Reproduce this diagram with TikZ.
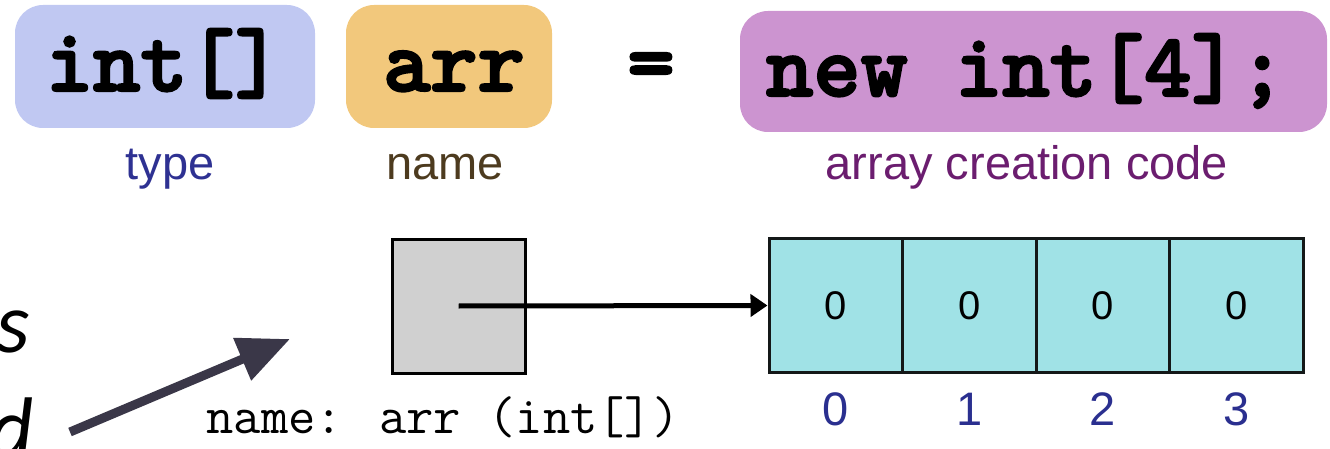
\documentclass[tikz,border=0pt]{standalone}
\usepackage{fontspec}
\usetikzlibrary{arrows.meta}
\setmainfont{Liberation Sans}
\newfontfamily\calit{Carlito}[ItalicFont=* Italic]
\definecolor{typebox}{RGB}{192,200,242}
\definecolor{namebox}{RGB}{242,200,124}
\definecolor{newbox}{RGB}{204,148,208}
\definecolor{typetxt}{RGB}{46,49,146}
\definecolor{nametxt}{RGB}{77,59,31}
\definecolor{newtxt}{RGB}{107,29,111}
\definecolor{idxtxt}{RGB}{42,47,143}
\definecolor{reffill}{RGB}{208,208,208}
\definecolor{cellfill}{RGB}{160,226,230}
\definecolor{cellline}{RGB}{20,24,24}
\definecolor{bigarrow}{RGB}{58,55,72}
\newcommand{\heavy}[1]{\special{pdf:literal direct 2 Tr 2.2 w}#1\special{pdf:literal direct 0 Tr 0.4 w}}
\begin{document}
\begin{tikzpicture}[x=1pt,y=-1pt,
  codebox/.style={rectangle, rounded corners=28pt, inner sep=0pt},
  codetxt/.style={inner sep=0pt, anchor=base, font=\fontsize{90}{90}\selectfont\ttfamily\bfseries},
  lbl/.style={inner sep=0pt, anchor=base, font=\fontsize{47}{47}\selectfont},
  cell/.style={draw=cellline, line width=3pt, fill=cellfill, minimum width=133.5pt, minimum height=134pt, inner sep=0pt, font=\fontsize{40}{40}\selectfont},
  idx/.style={inner sep=0pt, anchor=base, text=idxtxt, font=\fontsize{47}{47}\selectfont},
  frag/.style={inner sep=0pt, anchor=base east, font=\fontsize{86}{86}\selectfont\calit\itshape}
]
\useasboundingbox (0,0) rectangle (1330,449);
\clip (0,0) rectangle (1330,449);
% top row boxes
\node[codebox, fill=typebox, minimum width=300pt, minimum height=123pt] (tbox) at (165,66.5) {};
\node[codebox, fill=namebox, minimum width=206pt, minimum height=123pt] (nbox) at (449,66.5) {};
\node[codebox, fill=newbox, minimum width=587pt, minimum height=121pt] (cbox) at (1033.5,71.5) {};
\node[codetxt] (ttxt) at (164,91) {\heavy{int[]}};
\node[codetxt] (ntxt) at (454,91) {\heavy{arr}};
\node[codetxt] (eq) at (651,91) {\heavy{=}};
\node[codetxt] (ctxt) at (1026,96) {\heavy{new int[4];}};
% labels
\node[lbl, text=typetxt] (tlbl) at (170,180) {type};
\node[lbl, text=nametxt] (nlbl) at (445,180) {name};
\node[lbl, text=newtxt] (clbl) at (1027,180) {array creation code};
% reference box
\node[draw=black, line width=3pt, fill=reffill, minimum width=133pt, minimum height=134pt, inner sep=0pt] (ref) at (458.5,306) {};
\node[inner sep=0pt, anchor=base, font=\fontsize{53}{53}\selectfont\ttfamily] (refname) at (443,433) {name: arr (int[])};
% array cells
\node[cell] (c0) at (835.75,305.5) {0};
\node[cell] (c1) at (969.25,305.5) {0};
\node[cell] (c2) at (1102.75,305.5) {0};
\node[cell] (c3) at (1236.25,305.5) {0};
\node[idx] (i0) at (c0.center |- 0,425) {0};
\node[idx] (i1) at (c1.center |- 0,425) {1};
\node[idx] (i2) at (c2.center |- 0,425) {2};
\node[idx] (i3) at (c3.center |- 0,425) {3};
% pointer arrow
\draw[line width=5pt, -{Triangle[length=17pt,width=22pt]}] (ref.center) -- (c0.west);
% left fragments
\node[frag] (fs) at (30,352) {s};
\node[frag] (fd) at (34,457) {d};
% big arrow
\coordinate (bstart) at (70,432);
\coordinate (bend) at (290,339);
\draw[bigarrow, line width=9pt, -{Triangle[length=52pt,width=44pt]}] (bstart) -- (bend);
\end{tikzpicture}
\end{document}
